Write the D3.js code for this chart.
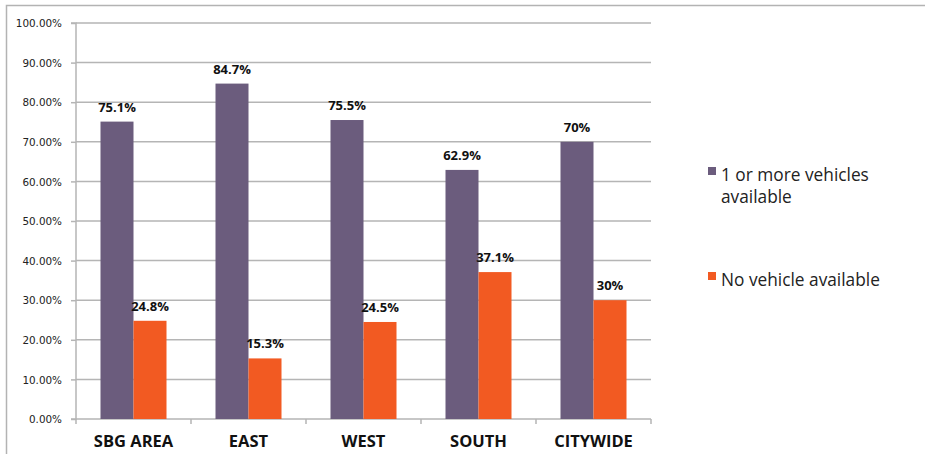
<!DOCTYPE html>
<html><head><meta charset="utf-8">
<script src="https://cdn.jsdelivr.net/npm/d3@7"></script>
<style>body{margin:0;background:#fff}svg{display:block}</style>
</head><body>
<svg id="c" width="925" height="454"></svg>
<script>
const categories = ["SBG AREA","EAST","WEST","SOUTH","CITYWIDE"];
const seriesNames = ["1 or more vehicles available","No vehicle available"];
const vehicles = [75.1, 84.7, 75.5, 62.9, 70];
const noVehicle = [24.8, 15.3, 24.5, 37.1, 30];
const valueLabels1 = ["75.1%","84.7%","75.5%","62.9%","70%"];
const valueLabels2 = ["24.8%","15.3%","24.5%","37.1%","30%"];
const yTicks = [0,10,20,30,40,50,60,70,80,90,100];
const colors = ["#6b5c7d","#f25a22"];

const svg = d3.select("#c");
const m = {l:76, r:651, t:23, b:419};

// outer frame (cropped)
svg.append("path").attr("d","M6.5,454 L6.5,5.5 L925,5.5").attr("fill","none").attr("stroke","#b3b3b3").attr("stroke-width",1.5);

const x0 = d3.scaleBand().domain(categories).range([m.l,m.r]).paddingInner(0).paddingOuter(0);
const x1 = d3.scaleBand().domain([0,1]).range([24.5, x0.bandwidth()-24.5]);
const y = d3.scaleLinear().domain([0,100]).range([m.b,m.t]);

// gridlines
svg.append("g").selectAll("line").data(yTicks.filter(d=>d>0)).join("line")
  .attr("x1",m.l).attr("x2",m.r).attr("y1",d=>y(d)).attr("y2",d=>y(d))
  .attr("stroke","#b5b5b5").attr("stroke-width",1.5);

// y axis
const ya = svg.append("g").attr("transform",`translate(${m.l},0)`)
  .call(d3.axisLeft(y).tickValues(yTicks).tickSize(5).tickFormat(d=>d.toFixed(2)+"%"));
ya.select(".domain").attr("stroke","#b5b5b5").attr("stroke-width",1.5).attr("d",`M-5,${m.t}H0V${m.b}H-5`);
ya.selectAll(".tick line").attr("stroke","#b5b5b5").attr("stroke-width",1.5);
ya.selectAll(".tick text").attr("x",-14).attr("fill","#222").style("font-family","'DejaVu Sans'").style("font-size","10.4px").attr("dy","0.35em");

// x axis
const xa = svg.append("g").attr("transform",`translate(0,${m.b})`)
  .call(d3.axisBottom(x0).tickSize(0).tickPadding(0));
xa.select(".domain").attr("stroke","#b5b5b5").attr("stroke-width",1.5).attr("d",`M${m.l},0H${m.r}`);
xa.selectAll(".tick text").attr("y",27.5).attr("dy","0").attr("fill","#111")
  .style("font-family","'Open Sans'").style("font-weight","bold").style("font-size","16.5px");
const bounds = categories.map((c,i)=>x0(c)).concat([m.r]);
svg.append("g").selectAll("line").data(bounds).join("line")
  .attr("x1",d=>d).attr("x2",d=>d).attr("y1",m.b).attr("y2",m.b+5)
  .attr("stroke","#b5b5b5").attr("stroke-width",1.5);

// bars
const series = [vehicles, noVehicle];
const labels = [valueLabels1, valueLabels2];
series.forEach((vals,s)=>{
  const g = svg.append("g");
  g.selectAll("rect").data(vals).join("rect")
    .attr("x",(d,i)=>x0(categories[i])+x1(s))
    .attr("width",x1.bandwidth())
    .attr("y",d=>y(d)).attr("height",d=>y(0)-y(d))
    .attr("fill",colors[s]);
  g.selectAll("text").data(vals).join("text")
    .attr("x",(d,i)=>x0(categories[i])+x1(s)+x1.bandwidth()/2)
    .attr("y",d=>y(d)-10)
    .attr("text-anchor","middle").attr("fill","#111")
    .style("font-family","'Open Sans'").style("font-weight","bold").style("font-size","13px")
    .text((d,i)=>labels[s][i]);
});

// legend
const lg = svg.append("g").style("font-family","'Open Sans'").style("font-size","17.3px").attr("fill","#222");
lg.append("rect").attr("x",708).attr("y",167).attr("width",8).attr("height",8).attr("fill",colors[0]);
lg.append("text").attr("x",721).attr("y",181).text("1 or more vehicles");
lg.append("text").attr("x",721).attr("y",203).text("available");
lg.append("rect").attr("x",708).attr("y",272).attr("width",8).attr("height",8).attr("fill",colors[1]);
lg.append("text").attr("x",721).attr("y",286).text("No vehicle available");
</script>
</body></html>
